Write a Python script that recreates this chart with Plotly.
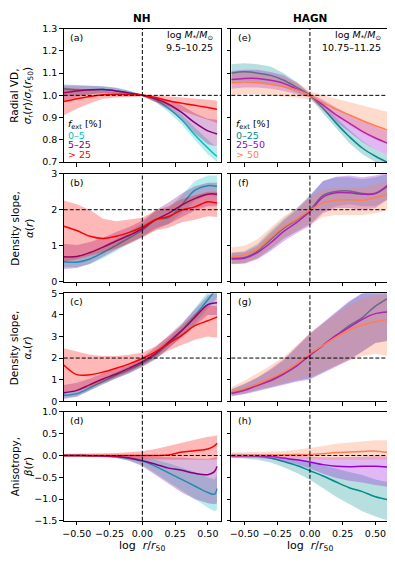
import plotly.graph_objects as go
from plotly.subplots import make_subplots

# window is 395x564; the page body adds an 8px margin, so the figure is drawn 8px smaller
W, H = 395, 564
OFF = 8
FW, FH = W - OFF, H - OFF

# log r/r50 sample points
x_nh = [-0.6, -0.5, -0.4, -0.3, -0.2, -0.1, 0.0, 0.1, 0.2, 0.3, 0.4, 0.5, 0.55, 0.57]
x_hagn = [-0.6, -0.5, -0.4, -0.3, -0.2, -0.1, 0.0, 0.1, 0.2, 0.3, 0.4, 0.5, 0.6]

# ---- NH, (a) radial velocity dispersion profile
a_c = [1.03, 1.025, 1.024, 1.026, 1.02, 1.012, 1.0, 0.98, 0.942, 0.89, 0.823, 0.763, 0.735, 0.726]
a_c_lo = [1.0, 1.0, 1.005, 1.01, 1.008, 1.004, 0.997, 0.97, 0.925, 0.87, 0.8, 0.735, 0.71, 0.7]
a_c_hi = [1.05, 1.045, 1.043, 1.042, 1.035, 1.022, 1.003, 0.99, 0.96, 0.915, 0.855, 0.8, 0.775, 0.765]
a_p = [1.012, 1.02, 1.025, 1.026, 1.02, 1.01, 1.0, 0.985, 0.96, 0.923, 0.877, 0.84, 0.83, 0.826]
a_p_lo = [0.975, 0.99, 1.005, 1.01, 1.008, 1.003, 0.997, 0.97, 0.935, 0.89, 0.83, 0.78, 0.772, 0.77]
a_p_hi = [1.045, 1.045, 1.043, 1.04, 1.033, 1.02, 1.003, 0.995, 0.98, 0.955, 0.92, 0.895, 0.89, 0.89]
a_r = [0.972, 0.985, 0.995, 1.003, 1.005, 1.003, 1.0, 0.99, 0.976, 0.965, 0.955, 0.945, 0.94, 0.937]
a_r_lo = [0.91, 0.94, 0.965, 0.985, 0.99, 0.993, 0.995, 0.97, 0.95, 0.93, 0.91, 0.89, 0.88, 0.875]
a_r_hi = [1.035, 1.03, 1.025, 1.02, 1.018, 1.012, 1.005, 1.0, 0.995, 0.99, 0.985, 0.98, 0.978, 0.975]

# ---- NH, (b) density slope
b_c = [0.55, 0.54, 0.63, 0.81, 1.01, 1.22, 1.43, 1.72, 1.78, 2.13, 2.54, 2.67, 2.66, 2.65]
b_c_lo = [0.4, 0.4, 0.48, 0.65, 0.85, 1.05, 1.25, 1.5, 1.6, 1.9, 2.25, 2.4, 2.38, 2.35]
b_c_hi = [0.7, 0.7, 0.8, 0.98, 1.18, 1.4, 1.62, 1.95, 2.05, 2.4, 2.8, 2.95, 2.95, 2.95]
b_p = [0.69, 0.7, 0.81, 0.96, 1.13, 1.29, 1.47, 1.72, 1.9, 2.13, 2.31, 2.43, 2.44, 2.43]
b_p_lo = [0.35, 0.38, 0.5, 0.68, 0.88, 1.08, 1.25, 1.45, 1.6, 1.8, 1.98, 2.1, 2.1, 2.1]
b_p_hi = [1.05, 1.02, 1.1, 1.22, 1.38, 1.52, 1.7, 1.98, 2.2, 2.45, 2.65, 2.75, 2.75, 2.75]
b_r = [1.54, 1.42, 1.26, 1.2, 1.26, 1.37, 1.52, 1.72, 1.81, 1.99, 2.08, 2.22, 2.2, 2.19]
b_r_lo = [0.55, 0.62, 0.72, 0.82, 0.92, 1.05, 1.22, 1.42, 1.5, 1.65, 1.72, 1.82, 1.8, 1.8]
b_r_hi = [2.26, 2.15, 1.99, 1.75, 1.68, 1.72, 1.78, 1.98, 2.1, 2.3, 2.4, 2.5, 2.5, 2.5]

# ---- NH, (c) stellar density slope
c_c = [0.27, 0.35, 0.62, 0.92, 1.2, 1.45, 1.76, 2.14, 2.67, 3.27, 3.95, 4.7, 5.1, 5.3]
c_c_lo = [0.15, 0.22, 0.48, 0.78, 1.05, 1.3, 1.6, 1.95, 2.45, 3.0, 3.6, 4.3, 4.65, 4.8]
c_c_hi = [0.4, 0.5, 0.78, 1.08, 1.35, 1.62, 1.92, 2.35, 2.9, 3.55, 4.3, 5.1, 5.5, 5.6]
c_p = [0.39, 0.5, 0.77, 1.03, 1.26, 1.53, 1.83, 2.21, 2.74, 3.27, 3.88, 4.48, 4.55, 4.56]
c_p_lo = [0.1, 0.2, 0.5, 0.8, 1.05, 1.3, 1.6, 1.95, 2.45, 2.95, 3.5, 4.0, 4.0, 4.0]
c_p_hi = [0.75, 0.85, 1.05, 1.3, 1.5, 1.75, 2.05, 2.5, 3.05, 3.6, 4.25, 4.9, 5.0, 5.0]
c_r = [1.68, 1.23, 1.23, 1.35, 1.53, 1.73, 1.98, 2.29, 2.67, 3.05, 3.5, 3.73, 3.85, 3.91]
c_r_lo = [0.4, 0.5, 0.65, 0.85, 1.1, 1.35, 1.65, 2.0, 2.35, 2.6, 2.85, 3.0, 2.95, 2.95]
c_r_hi = [2.45, 2.3, 2.15, 2.1, 2.1, 2.15, 2.25, 2.55, 3.0, 3.5, 4.05, 4.45, 4.42, 4.4]

# ---- NH, (d) anisotropy
d_c = [0.0, 0.0, -0.005, -0.01, -0.03, -0.07, -0.13, -0.25, -0.4, -0.55, -0.7, -0.85, -0.89, -0.76]
d_c_lo = [-0.02, -0.02, -0.025, -0.03, -0.06, -0.12, -0.22, -0.4, -0.6, -0.8, -1.0, -1.2, -1.28, -1.25]
d_c_hi = [0.02, 0.02, 0.015, 0.01, 0.0, -0.02, -0.05, -0.1, -0.18, -0.28, -0.38, -0.5, -0.55, -0.45]
d_p = [0.0, 0.0, -0.005, -0.01, -0.02, -0.06, -0.12, -0.2, -0.29, -0.34, -0.41, -0.44, -0.37, -0.25]
d_p_lo = [-0.02, -0.02, -0.025, -0.03, -0.06, -0.12, -0.25, -0.45, -0.65, -0.85, -1.0, -1.1, -1.12, -1.1]
d_p_hi = [0.02, 0.02, 0.015, 0.01, 0.01, 0.0, -0.01, -0.02, -0.04, -0.05, -0.07, -0.08, -0.05, -0.02]
d_r = [0.0, 0.0, 0.0, 0.0, 0.0, 0.0, 0.0, 0.0, 0.01, 0.08, 0.11, 0.15, 0.22, 0.28]
d_r_lo = [-0.03, -0.03, -0.03, -0.04, -0.05, -0.06, -0.08, -0.09, -0.1, -0.1, -0.1, -0.1, -0.1, -0.08]
d_r_hi = [0.04, 0.04, 0.05, 0.05, 0.06, 0.08, 0.1, 0.15, 0.22, 0.3, 0.37, 0.43, 0.45, 0.47]

# ---- HAGN, (e) radial velocity dispersion profile
e_t = [1.1, 1.106, 1.1, 1.09, 1.068, 1.036, 1.0, 0.942, 0.875, 0.815, 0.763, 0.726, 0.696]
e_t_lo = [1.06, 1.065, 1.06, 1.05, 1.035, 1.012, 0.99, 0.92, 0.85, 0.785, 0.735, 0.7, 0.665]
e_t_hi = [1.14, 1.145, 1.14, 1.13, 1.1, 1.06, 1.01, 0.965, 0.9, 0.845, 0.795, 0.755, 0.73]
e_v = [1.071, 1.076, 1.076, 1.068, 1.054, 1.028, 1.0, 0.957, 0.912, 0.875, 0.838, 0.808, 0.783]
e_v_lo = [1.03, 1.035, 1.035, 1.03, 1.02, 1.005, 0.99, 0.935, 0.88, 0.835, 0.79, 0.755, 0.73]
e_v_hi = [1.11, 1.115, 1.115, 1.105, 1.09, 1.055, 1.01, 0.98, 0.945, 0.915, 0.885, 0.86, 0.835]
e_o = [1.057, 1.06, 1.057, 1.049, 1.039, 1.024, 1.0, 0.967, 0.937, 0.912, 0.887, 0.863, 0.842]
e_o_lo = [1.0, 1.005, 1.005, 1.0, 0.995, 0.99, 0.98, 0.935, 0.9, 0.865, 0.83, 0.8, 0.775]
e_o_hi = [1.11, 1.11, 1.105, 1.095, 1.08, 1.06, 1.02, 1.0, 0.985, 0.97, 0.955, 0.94, 0.925]

# ---- HAGN, (f) density slope
f_t = [0.65, 0.67, 0.85, 1.17, 1.49, 1.72, 1.99, 2.4, 2.51, 2.52, 2.45, 2.46, 2.67]
f_t_lo = [0.5, 0.52, 0.65, 0.9, 1.2, 1.4, 1.6, 1.95, 2.1, 2.15, 2.1, 2.1, 2.3]
f_t_hi = [0.8, 0.85, 1.05, 1.42, 1.75, 2.05, 2.4, 2.8, 2.9, 2.9, 2.85, 2.9, 3.0]
f_v = [0.63, 0.65, 0.81, 1.08, 1.4, 1.65, 1.95, 2.35, 2.47, 2.47, 2.43, 2.45, 2.7]
f_v_lo = [0.48, 0.5, 0.62, 0.85, 1.12, 1.35, 1.55, 1.9, 2.05, 2.05, 2.0, 2.05, 2.3]
f_v_hi = [0.8, 0.82, 1.0, 1.35, 1.7, 2.0, 2.38, 2.8, 2.92, 2.95, 2.9, 2.95, 3.05]
f_o = [0.7, 0.74, 0.9, 1.22, 1.52, 1.74, 1.99, 2.19, 2.26, 2.28, 2.26, 2.34, 2.43]
f_o_lo = [0.5, 0.52, 0.65, 0.92, 1.2, 1.42, 1.6, 1.8, 1.85, 1.85, 1.85, 1.9, 2.0]
f_o_hi = [0.95, 1.0, 1.18, 1.5, 1.82, 2.05, 2.35, 2.55, 2.6, 2.62, 2.62, 2.7, 2.8]

# ---- HAGN, (g) stellar density slope
g_t = [0.39, 0.55, 0.77, 1.0, 1.3, 1.68, 2.14, 2.59, 3.05, 3.5, 3.88, 4.41, 4.79]
g_t_lo = [0.25, 0.35, 0.5, 0.65, 0.8, 0.95, 1.05, 1.35, 1.65, 1.95, 2.3, 2.7, 2.8]
g_t_hi = [0.55, 0.8, 1.1, 1.45, 1.9, 2.5, 3.1, 3.6, 4.1, 4.6, 5.0, 5.1, 5.1]
g_v = [0.35, 0.5, 0.73, 0.95, 1.26, 1.64, 2.14, 2.59, 3.05, 3.42, 3.8, 4.06, 4.14]
g_v_lo = [0.22, 0.32, 0.48, 0.6, 0.75, 0.9, 1.0, 1.3, 1.6, 1.9, 2.3, 2.7, 2.8]
g_v_hi = [0.55, 0.8, 1.1, 1.5, 1.95, 2.55, 3.15, 3.65, 4.15, 4.65, 5.0, 5.1, 5.1]
g_o = [0.44, 0.59, 0.8, 1.05, 1.35, 1.73, 2.21, 2.59, 2.97, 3.3, 3.53, 3.68, 3.8]
g_o_lo = [0.28, 0.38, 0.55, 0.72, 0.88, 1.0, 1.15, 1.4, 1.65, 1.9, 2.1, 2.2, 2.1]
g_o_hi = [0.65, 0.95, 1.3, 1.65, 2.05, 2.6, 3.15, 3.6, 4.05, 4.45, 4.75, 4.9, 4.95]

# ---- HAGN, (h) anisotropy
h_t = [-0.01, -0.01, -0.02, -0.06, -0.14, -0.23, -0.35, -0.47, -0.61, -0.74, -0.83, -0.95, -1.02]
h_t_lo = [-0.06, -0.07, -0.1, -0.16, -0.27, -0.4, -0.56, -0.75, -0.95, -1.12, -1.28, -1.4, -1.5]
h_t_hi = [0.04, 0.04, 0.03, 0.0, -0.04, -0.08, -0.15, -0.22, -0.3, -0.38, -0.45, -0.55, -0.62]
h_v = [-0.01, -0.01, -0.01, -0.02, -0.06, -0.1, -0.15, -0.21, -0.25, -0.26, -0.25, -0.25, -0.27]
h_v_lo = [-0.05, -0.05, -0.06, -0.08, -0.14, -0.2, -0.3, -0.42, -0.52, -0.58, -0.62, -0.68, -0.72]
h_v_hi = [0.04, 0.04, 0.04, 0.03, 0.01, -0.01, -0.03, -0.04, -0.04, -0.04, -0.03, -0.02, -0.02]
h_o = [0.0, 0.0, 0.005, 0.01, 0.015, 0.02, 0.02, 0.04, 0.07, 0.08, 0.09, 0.1, 0.07]
h_o_lo = [-0.05, -0.05, -0.05, -0.05, -0.06, -0.07, -0.08, -0.1, -0.1, -0.1, -0.1, -0.1, -0.1]
h_o_hi = [0.07, 0.07, 0.08, 0.09, 0.1, 0.13, 0.17, 0.22, 0.27, 0.3, 0.33, 0.35, 0.35]

nh_labels = ["0–5", "5–25", "> 25"]
hagn_labels = ["0–25", "25–50", "> 50"]
nh_colors = ["#00bfbf", "#800080", "#ff0000"]
hagn_colors = ["#008b8b", "#9400d3", "#ff7f50"]

FONT = "DejaVu Sans"


def rgba(hex_color, a):
    h = hex_color.lstrip("#")
    r, g, b = (int(h[i:i + 2], 16) for i in (0, 2, 4))
    return f"rgba({r},{g},{b},{a})"


def px(xp, yp):
    '''window pixel position -> paper coords'''
    return (xp - OFF) / FW, 1 - (yp - OFF) / FH


fig = make_subplots(rows=4, cols=2)

panels = [
    (1, 1, x_nh, nh_colors, [(a_c, a_c_lo, a_c_hi), (a_p, a_p_lo, a_p_hi), (a_r, a_r_lo, a_r_hi)]),
    (1, 2, x_hagn, hagn_colors, [(e_t, e_t_lo, e_t_hi), (e_v, e_v_lo, e_v_hi), (e_o, e_o_lo, e_o_hi)]),
    (2, 1, x_nh, nh_colors, [(b_c, b_c_lo, b_c_hi), (b_p, b_p_lo, b_p_hi), (b_r, b_r_lo, b_r_hi)]),
    (2, 2, x_hagn, hagn_colors, [(f_t, f_t_lo, f_t_hi), (f_v, f_v_lo, f_v_hi), (f_o, f_o_lo, f_o_hi)]),
    (3, 1, x_nh, nh_colors, [(c_c, c_c_lo, c_c_hi), (c_p, c_p_lo, c_p_hi), (c_r, c_r_lo, c_r_hi)]),
    (3, 2, x_hagn, hagn_colors, [(g_t, g_t_lo, g_t_hi), (g_v, g_v_lo, g_v_hi), (g_o, g_o_lo, g_o_hi)]),
    (4, 1, x_nh, nh_colors, [(d_c, d_c_lo, d_c_hi), (d_p, d_p_lo, d_p_hi), (d_r, d_r_lo, d_r_hi)]),
    (4, 2, x_hagn, hagn_colors, [(h_t, h_t_lo, h_t_hi), (h_v, h_v_lo, h_v_hi), (h_o, h_o_lo, h_o_hi)]),
]

for row, col, xs, colors, series in panels:
    for (med, lo, hi), color in zip(series, colors):
        fig.add_trace(go.Scatter(
            x=xs + xs[::-1], y=hi + lo[::-1], fill="toself",
            fillcolor=rgba(color, 0.28), line=dict(width=0),
            mode="lines", hoverinfo="skip", showlegend=False,
        ), row=row, col=col)
        fig.add_trace(go.Scatter(
            x=xs, y=med, mode="lines",
            line=dict(color=color, width=1.5, shape="spline"),
            showlegend=False,
        ), row=row, col=col)

# panel geometry in window pixels
col_x = [(62.9, 220.5), (230.9, 388.5)]
row_y = [(23, 159), (171, 281), (293, 403), (414, 525)]
y_ranges = [(0.7, 1.3), (0, 3), (0, 5), (-1.5, 1.0)]
y_ticks = [
    [0.7, 0.8, 0.9, 1.0, 1.1, 1.2, 1.3],
    [0, 1, 2, 3],
    [0, 1, 2, 3, 4, 5],
    [-1.5, -1.0, -0.5, 0.0, 0.5, 1.0],
]
y_text = [
    ["0.7", "0.8", "0.9", "1.0", "1.1", "1.2", "1.3"],
    ["0", "1", "2", "3"],
    ["0", "1", "2", "3", "4", "5"],
    ["−1.5", "−1.0", "−0.5", "0.0", "0.5", "1.0"],
]
h_ref = [1.0, 2.0, 2.0, 0.0]
x_ticks = [-0.5, -0.25, 0.0, 0.25, 0.5]
x_text = ["−0.50", "−0.25", "0.00", "0.25", "0.50"]

axis_style = dict(
    showline=True, linecolor="black", linewidth=1, mirror=True,
    ticks="outside", ticklen=3.5, tickwidth=0.8, tickcolor="black",
    showgrid=False, zeroline=False,
    tickfont=dict(family=FONT, size=9.5, color="black"),
)

shapes = []
for r in range(4):
    for c in range(2):
        n = r * 2 + c + 1
        xa = "x" if n == 1 else f"x{n}"
        ya = "y" if n == 1 else f"y{n}"
        x0, x1 = col_x[c]
        top, bot = row_y[r]
        fig.update_xaxes(
            domain=[(x0 - OFF) / FW, (x1 - OFF) / FW], range=[-0.6, 0.6],
            tickvals=x_ticks, ticktext=x_text, showticklabels=(r == 3),
            row=r + 1, col=c + 1, **axis_style,
        )
        fig.update_yaxes(
            domain=[1 - (bot - OFF) / FH, 1 - (top - OFF) / FH], range=list(y_ranges[r]),
            tickvals=y_ticks[r], ticktext=y_text[r], showticklabels=(c == 0),
            row=r + 1, col=c + 1, **axis_style,
        )
        dash = dict(color="black", width=1, dash="4px,2px")
        shapes.append(dict(type="line", xref=xa, yref=f"{ya} domain",
                           x0=0, x1=0, y0=0, y1=1, line=dash))
        shapes.append(dict(type="line", xref=f"{xa} domain", yref=ya,
                           x0=0, x1=1, y0=h_ref[r], y1=h_ref[r], line=dash))

annotations = []


def note(text, xp, yp, size=10, color="black", xanchor="center", angle=0):
    ax, ay = px(xp, yp)
    annotations.append(dict(
        text=text, x=ax, y=ay, xref="paper", yref="paper",
        xanchor=xanchor, yanchor="middle", showarrow=False, textangle=angle,
        font=dict(family=FONT, size=size, color=color),
    ))


# column titles
note("<b>NH</b>", 141.7, 12, size=10.5)
note("<b>HAGN</b>", 309.7, 12, size=10.5)

# panel letters
letters = [["(a)", "(e)"], ["(b)", "(f)"], ["(c)", "(g)"], ["(d)", "(h)"]]
for r in range(4):
    for c in range(2):
        note(letters[r][c], col_x[c][0] + 4.5, row_y[r][0] + 8.5, size=9.5, xanchor="left")

# mass bins
note("log <i>M</i><sub>*</sub>/<i>M</i><sub>⊙</sub>", 215, 30, size=9.5, xanchor="right")
note("9.5–10.25", 215, 42, size=9.5, xanchor="right")
note("log <i>M</i><sub>*</sub>/<i>M</i><sub>⊙</sub>", 383, 30, size=9.5, xanchor="right")
note("10.75–11.25", 383, 42, size=9.5, xanchor="right")

# f_ext legends
for c, labels, colors in [(0, nh_labels, nh_colors), (1, hagn_labels, hagn_colors)]:
    lx = col_x[c][0] + 2.5
    note("<i>f</i><sub>ext</sub> [%]", lx, 121, size=9.5, xanchor="left")
    for i, (lab, colr) in enumerate(zip(labels, colors)):
        note(lab, lx, 131.5 + i * 9.8, size=9.5, color=colr, xanchor="left")

# y-axis labels
y_labels = [
    "Radial VD,<br><i>σ</i><sub>r</sub>(<i>r</i>)/<i>σ</i><sub>r</sub>(<i>r</i><sub>50</sub>)",
    "Density slope,<br><i>α</i>(<i>r</i>)",
    "Density slope,<br><i>α</i><sub>*</sub>(<i>r</i>)",
    "Anisotropy,<br><i>β</i>(<i>r</i>)",
]
for r, lab in enumerate(y_labels):
    note(lab, 21, (row_y[r][0] + row_y[r][1]) / 2, size=10.5, angle=-90)

# x-axis titles
note("log  <i>r</i>/<i>r</i><sub>50</sub>", 141.7, 551, size=11)
note("log  <i>r</i>/<i>r</i><sub>50</sub>", 309.7, 551, size=11)

fig.update_layout(
    width=FW, height=FH,
    margin=dict(l=0, r=0, t=0, b=0),
    paper_bgcolor="white", plot_bgcolor="white",
    showlegend=False,
    shapes=shapes, annotations=annotations,
    font=dict(family=FONT, size=10, color="black"),
)

fig.write_html("out.html")
